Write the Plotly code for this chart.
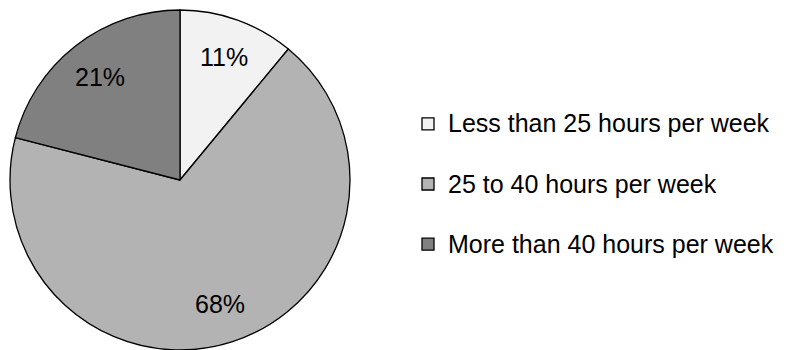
import math
import plotly.graph_objects as go

categories = ["Less than 25 hours per week", "25 to 40 hours per week", "More than 40 hours per week"]
shares = [11, 68, 21]
slice_colors = ["#F2F2F2", "#B3B3B3", "#808080"]

legend_labels = [f'<span style="font-size:25px">{c}</span><br> ' for c in categories]

W, H = 787, 350
ML, MT = 10, 10
plot_w, plot_h = W - ML, H - MT
pie_px = 340
R = pie_px / 2

fig = go.Figure(
    go.Pie(
        labels=legend_labels,
        values=shares,
        sort=False,
        direction="clockwise",
        rotation=0,
        marker=dict(colors=slice_colors, line=dict(color="#000000", width=1.3)),
        textinfo="none",
        domain=dict(x=[0, pie_px / plot_w], y=[0, 1]),
        hoverinfo="skip",
    )
)

# percentage labels placed at each slice's mid-angle (clockwise from 12 o'clock)
total = sum(shares)
cum = 0.0
label_frac = 0.77
for v in shares:
    mid = (cum + v / 2) / total * 2 * math.pi
    cum += v
    dx = label_frac * R * math.sin(mid)
    dy = label_frac * R * math.cos(mid)
    fig.add_annotation(
        x=(R + dx) / plot_w,
        y=0.5 + dy / plot_h,
        xref="paper",
        yref="paper",
        text=f"{round(v / total * 100)}%",
        showarrow=False,
        xanchor="center",
        yanchor="middle",
        font=dict(family="Liberation Sans, Arial, sans-serif", size=25, color="#000000"),
    )

fig.update_layout(
    width=W,
    height=H,
    margin=dict(l=ML, r=0, t=MT, b=0, autoexpand=False),
    paper_bgcolor="white",
    plot_bgcolor="white",
    showlegend=True,
    legend=dict(
        x=(408 - ML) / plot_w,
        y=(H - 103) / plot_h,
        xanchor="left",
        yanchor="top",
        valign="top",
        font=dict(family="Liberation Sans, Arial, sans-serif", size=22, color="#000000"),
        bgcolor="rgba(0,0,0,0)",
    ),
    font=dict(family="Liberation Sans, Arial, sans-serif", color="#000000"),
)

fig.write_html("out.html")
